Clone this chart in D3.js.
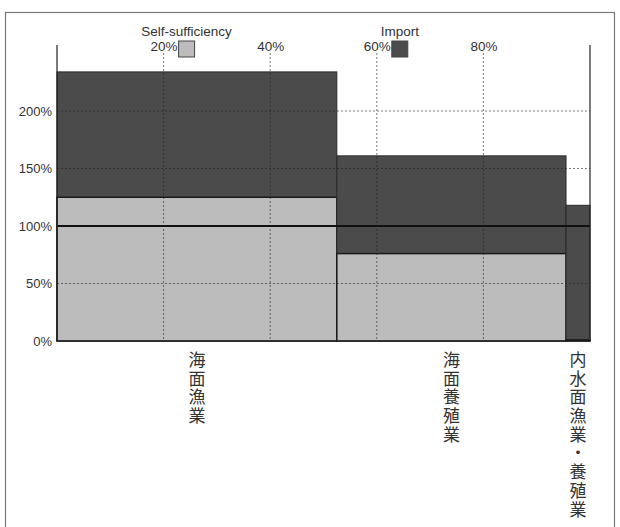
<!DOCTYPE html>
<html>
<head>
<meta charset="utf-8">
<script src="https://cdn.jsdelivr.net/npm/d3@7"></script>
<style>
  body { margin: 0; background: #fff; }
  text { font-family: "Liberation Sans", Arial, sans-serif; fill: #333; }
  .cat { font-family: "Noto Sans CJK JP", sans-serif; writing-mode: vertical-rl; }
</style>
</head>
<body>
<script>
// data
var categories = ["海面漁業", "海面養殖業", "内水面漁業・養殖業"];
var shares = [52.5, 43.0, 4.5];             // width, % of total
var selfSufficiency = [125, 76, 1];         // %
var importRatio = [109, 85, 117];           // % stacked on top
var xTicks = [20, 40, 60, 80];
var yTicks = [0, 50, 100, 150, 200];

var margin = {top: 45, left: 57};
var width = 533, height = 296;
var lightFill = "#bcbcbc", darkFill = "#4b4b4b";

var svg = d3.select("body").append("svg")
    .attr("width", 620)
    .attr("height", 527);

// outer frame
svg.append("rect")
    .attr("x", 5.5).attr("y", 12.5)
    .attr("width", 609).attr("height", 530)
    .attr("fill", "none")
    .attr("stroke", "#777")
    .attr("stroke-width", 1.2);

var g = svg.append("g")
    .attr("transform", "translate(" + margin.left + "," + margin.top + ")");

var x = d3.scaleLinear().domain([0, 100]).range([0, width]);
var y = d3.scaleLinear().domain([0, 200]).range([height, height - 230]);

// cumulative x start of every column
var starts = [];
var acc = 0;
shares.forEach(function(s) { starts.push(acc); acc += s; });

var cols = g.selectAll(".col").data(categories).enter()
    .append("g").attr("class", "col");

// import part (stacked on top of self-sufficiency)
cols.append("rect")
    .attr("x", function(d, i) { return x(starts[i]); })
    .attr("y", function(d, i) { return y(selfSufficiency[i] + importRatio[i]); })
    .attr("width", function(d, i) { return x(shares[i]) - x(0); })
    .attr("height", function(d, i) { return y(0) - y(selfSufficiency[i] + importRatio[i]); })
    .attr("fill", darkFill)
    .attr("stroke", "#2a2a2a")
    .attr("stroke-width", 1);

// self-sufficiency part
cols.append("rect")
    .attr("x", function(d, i) { return x(starts[i]); })
    .attr("y", function(d, i) { return y(selfSufficiency[i]); })
    .attr("width", function(d, i) { return x(shares[i]) - x(0); })
    .attr("height", function(d, i) { return y(0) - y(selfSufficiency[i]); })
    .attr("fill", lightFill)
    .attr("stroke", "#1a1a1a")
    .attr("stroke-width", 1.5);

// horizontal grid lines
g.selectAll(".hgrid").data(yTicks.filter(function(t) { return t != 0 && t != 100; }))
    .enter().append("line")
    .attr("x1", 0).attr("x2", width)
    .attr("y1", function(d) { return y(d); })
    .attr("y2", function(d) { return y(d); })
    .attr("stroke", "#222")
    .attr("stroke-opacity", 0.6)
    .attr("stroke-dasharray", "2,2");

// vertical grid lines
g.selectAll(".vgrid").data(xTicks)
    .enter().append("line")
    .attr("x1", function(d) { return x(d); })
    .attr("x2", function(d) { return x(d); })
    .attr("y1", 8).attr("y2", height)
    .attr("stroke", "#222")
    .attr("stroke-opacity", 0.6)
    .attr("stroke-dasharray", "2,2");

// 100% line
g.append("line")
    .attr("x1", 0).attr("x2", width)
    .attr("y1", y(100)).attr("y2", y(100))
    .attr("stroke", "#111")
    .attr("stroke-width", 2);

// frame lines: left, right, bottom
g.append("line").attr("x1", 0).attr("x2", 0).attr("y1", 0).attr("y2", height)
    .attr("stroke", "#222").attr("stroke-width", 1.2);
g.append("line").attr("x1", width).attr("x2", width).attr("y1", 0).attr("y2", height)
    .attr("stroke", "#222").attr("stroke-width", 1.2);
g.append("line").attr("x1", 0).attr("x2", width).attr("y1", height).attr("y2", height)
    .attr("stroke", "#222").attr("stroke-width", 1.2);

// y axis
var leftAxis = d3.axisLeft(y).tickValues(yTicks).tickSize(0).tickPadding(5)
    .tickFormat(function(d) { return d + "%"; });
g.append("g").attr("class", "left axis")
    .call(leftAxis)
    .call(function(a) { a.select(".domain").remove(); })
    .selectAll("text")
    .attr("font-size", "13px")
    .attr("fill", "#333");

// top axis
var topAxis = d3.axisTop(x).tickValues(xTicks).tickSize(0).tickPadding(0)
    .tickFormat(function(d) { return d + "%"; });
g.append("g").attr("class", "top axis")
    .attr("transform", "translate(0,6)")
    .call(topAxis)
    .call(function(a) { a.select(".domain").remove(); })
    .selectAll("text")
    .attr("font-size", "13.5px")
    .attr("fill", "#333");

// legend
var legend = [
    {name: "Self-sufficiency", fill: lightFill, at: 20},
    {name: "Import", fill: darkFill, at: 60}
];
var lg = g.selectAll(".legend").data(legend).enter().append("g").attr("class", "legend");
lg.append("rect")
    .attr("x", function(d) { return x(d.at) + 15; })
    .attr("y", -4)
    .attr("width", 16).attr("height", 16)
    .attr("fill", function(d) { return d.fill; })
    .attr("stroke", "#444");
lg.append("text")
    .attr("x", function(d) { return x(d.at) + 23; })
    .attr("y", -9)
    .attr("text-anchor", "middle")
    .attr("font-size", "13.5px")
    .text(function(d) { return d.name; });

// category labels, written vertically
g.selectAll(".cat").data(categories).enter()
    .append("text").attr("class", "cat")
    .attr("x", function(d, i) { return x(starts[i] + shares[i] / 2); })
    .attr("y", height + 10)
    .attr("font-size", "17px")
    .attr("letter-spacing", "1.7px")
    .attr("fill", "#222")
    .text(function(d) { return d; });
</script>
</body>
</html>
